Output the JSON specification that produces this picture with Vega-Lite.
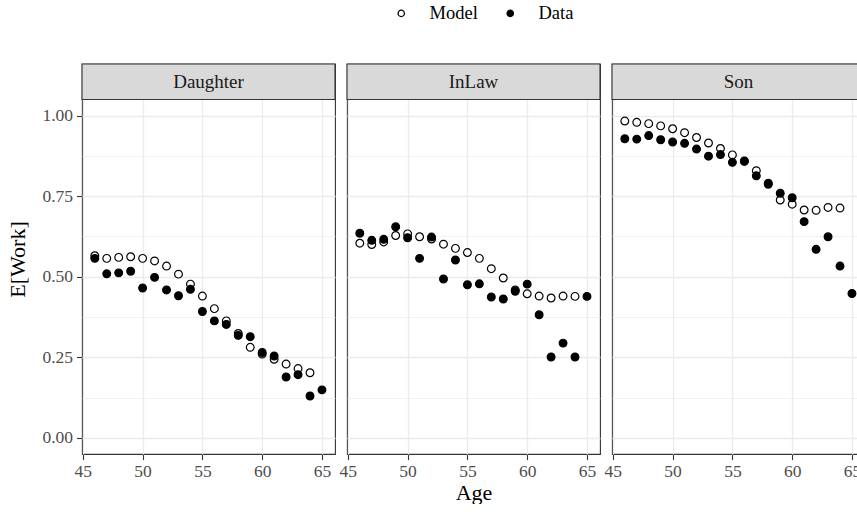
{
  "$schema": "https://vega.github.io/schema/vega-lite/v6.json",
  "padding": {"left": 6, "top": 4, "right": 0, "bottom": 0},
  "background": "white",
  "bounds": "flush",
  "data": {"values": [
    {"panel": "Daughter", "age": 46, "type": "Model", "value": 0.565},
    {"panel": "Daughter", "age": 47, "type": "Model", "value": 0.557},
    {"panel": "Daughter", "age": 48, "type": "Model", "value": 0.560},
    {"panel": "Daughter", "age": 49, "type": "Model", "value": 0.562},
    {"panel": "Daughter", "age": 50, "type": "Model", "value": 0.557},
    {"panel": "Daughter", "age": 51, "type": "Model", "value": 0.549},
    {"panel": "Daughter", "age": 52, "type": "Model", "value": 0.533},
    {"panel": "Daughter", "age": 53, "type": "Model", "value": 0.508},
    {"panel": "Daughter", "age": 54, "type": "Model", "value": 0.477},
    {"panel": "Daughter", "age": 55, "type": "Model", "value": 0.440},
    {"panel": "Daughter", "age": 56, "type": "Model", "value": 0.401},
    {"panel": "Daughter", "age": 57, "type": "Model", "value": 0.363},
    {"panel": "Daughter", "age": 58, "type": "Model", "value": 0.324},
    {"panel": "Daughter", "age": 59, "type": "Model", "value": 0.281},
    {"panel": "Daughter", "age": 60, "type": "Model", "value": 0.260},
    {"panel": "Daughter", "age": 61, "type": "Model", "value": 0.244},
    {"panel": "Daughter", "age": 62, "type": "Model", "value": 0.229},
    {"panel": "Daughter", "age": 63, "type": "Model", "value": 0.215},
    {"panel": "Daughter", "age": 64, "type": "Model", "value": 0.202},
    {"panel": "InLaw", "age": 46, "type": "Model", "value": 0.604},
    {"panel": "InLaw", "age": 47, "type": "Model", "value": 0.600},
    {"panel": "InLaw", "age": 48, "type": "Model", "value": 0.608},
    {"panel": "InLaw", "age": 49, "type": "Model", "value": 0.628},
    {"panel": "InLaw", "age": 50, "type": "Model", "value": 0.633},
    {"panel": "InLaw", "age": 51, "type": "Model", "value": 0.624},
    {"panel": "InLaw", "age": 52, "type": "Model", "value": 0.617},
    {"panel": "InLaw", "age": 53, "type": "Model", "value": 0.601},
    {"panel": "InLaw", "age": 54, "type": "Model", "value": 0.588},
    {"panel": "InLaw", "age": 55, "type": "Model", "value": 0.575},
    {"panel": "InLaw", "age": 56, "type": "Model", "value": 0.557},
    {"panel": "InLaw", "age": 57, "type": "Model", "value": 0.525},
    {"panel": "InLaw", "age": 58, "type": "Model", "value": 0.496},
    {"panel": "InLaw", "age": 59, "type": "Model", "value": 0.459},
    {"panel": "InLaw", "age": 60, "type": "Model", "value": 0.447},
    {"panel": "InLaw", "age": 61, "type": "Model", "value": 0.440},
    {"panel": "InLaw", "age": 62, "type": "Model", "value": 0.434},
    {"panel": "InLaw", "age": 63, "type": "Model", "value": 0.440},
    {"panel": "InLaw", "age": 64, "type": "Model", "value": 0.439},
    {"panel": "Son", "age": 46, "type": "Model", "value": 0.983},
    {"panel": "Son", "age": 47, "type": "Model", "value": 0.979},
    {"panel": "Son", "age": 48, "type": "Model", "value": 0.975},
    {"panel": "Son", "age": 49, "type": "Model", "value": 0.968},
    {"panel": "Son", "age": 50, "type": "Model", "value": 0.959},
    {"panel": "Son", "age": 51, "type": "Model", "value": 0.947},
    {"panel": "Son", "age": 52, "type": "Model", "value": 0.932},
    {"panel": "Son", "age": 53, "type": "Model", "value": 0.915},
    {"panel": "Son", "age": 54, "type": "Model", "value": 0.898},
    {"panel": "Son", "age": 55, "type": "Model", "value": 0.878},
    {"panel": "Son", "age": 56, "type": "Model", "value": 0.858},
    {"panel": "Son", "age": 57, "type": "Model", "value": 0.829},
    {"panel": "Son", "age": 58, "type": "Model", "value": 0.790},
    {"panel": "Son", "age": 59, "type": "Model", "value": 0.738},
    {"panel": "Son", "age": 60, "type": "Model", "value": 0.725},
    {"panel": "Son", "age": 61, "type": "Model", "value": 0.707},
    {"panel": "Son", "age": 62, "type": "Model", "value": 0.706},
    {"panel": "Son", "age": 63, "type": "Model", "value": 0.715},
    {"panel": "Son", "age": 64, "type": "Model", "value": 0.713},
    {"panel": "Daughter", "age": 46, "type": "Data", "value": 0.557},
    {"panel": "Daughter", "age": 47, "type": "Data", "value": 0.509},
    {"panel": "Daughter", "age": 48, "type": "Data", "value": 0.512},
    {"panel": "Daughter", "age": 49, "type": "Data", "value": 0.517},
    {"panel": "Daughter", "age": 50, "type": "Data", "value": 0.465},
    {"panel": "Daughter", "age": 51, "type": "Data", "value": 0.498},
    {"panel": "Daughter", "age": 52, "type": "Data", "value": 0.459},
    {"panel": "Daughter", "age": 53, "type": "Data", "value": 0.441},
    {"panel": "Daughter", "age": 54, "type": "Data", "value": 0.461},
    {"panel": "Daughter", "age": 55, "type": "Data", "value": 0.392},
    {"panel": "Daughter", "age": 56, "type": "Data", "value": 0.363},
    {"panel": "Daughter", "age": 57, "type": "Data", "value": 0.352},
    {"panel": "Daughter", "age": 58, "type": "Data", "value": 0.318},
    {"panel": "Daughter", "age": 59, "type": "Data", "value": 0.314},
    {"panel": "Daughter", "age": 60, "type": "Data", "value": 0.265},
    {"panel": "Daughter", "age": 61, "type": "Data", "value": 0.254},
    {"panel": "Daughter", "age": 62, "type": "Data", "value": 0.189},
    {"panel": "Daughter", "age": 63, "type": "Data", "value": 0.196},
    {"panel": "Daughter", "age": 64, "type": "Data", "value": 0.130},
    {"panel": "Daughter", "age": 65, "type": "Data", "value": 0.149},
    {"panel": "InLaw", "age": 46, "type": "Data", "value": 0.635},
    {"panel": "InLaw", "age": 47, "type": "Data", "value": 0.613},
    {"panel": "InLaw", "age": 48, "type": "Data", "value": 0.616},
    {"panel": "InLaw", "age": 49, "type": "Data", "value": 0.655},
    {"panel": "InLaw", "age": 50, "type": "Data", "value": 0.621},
    {"panel": "InLaw", "age": 51, "type": "Data", "value": 0.557},
    {"panel": "InLaw", "age": 52, "type": "Data", "value": 0.623},
    {"panel": "InLaw", "age": 53, "type": "Data", "value": 0.493},
    {"panel": "InLaw", "age": 54, "type": "Data", "value": 0.552},
    {"panel": "InLaw", "age": 55, "type": "Data", "value": 0.475},
    {"panel": "InLaw", "age": 56, "type": "Data", "value": 0.478},
    {"panel": "InLaw", "age": 57, "type": "Data", "value": 0.437},
    {"panel": "InLaw", "age": 58, "type": "Data", "value": 0.431},
    {"panel": "InLaw", "age": 59, "type": "Data", "value": 0.455},
    {"panel": "InLaw", "age": 60, "type": "Data", "value": 0.477},
    {"panel": "InLaw", "age": 61, "type": "Data", "value": 0.382},
    {"panel": "InLaw", "age": 62, "type": "Data", "value": 0.251},
    {"panel": "InLaw", "age": 63, "type": "Data", "value": 0.294},
    {"panel": "InLaw", "age": 64, "type": "Data", "value": 0.251},
    {"panel": "InLaw", "age": 65, "type": "Data", "value": 0.439},
    {"panel": "Son", "age": 46, "type": "Data", "value": 0.928},
    {"panel": "Son", "age": 47, "type": "Data", "value": 0.927},
    {"panel": "Son", "age": 48, "type": "Data", "value": 0.938},
    {"panel": "Son", "age": 49, "type": "Data", "value": 0.925},
    {"panel": "Son", "age": 50, "type": "Data", "value": 0.918},
    {"panel": "Son", "age": 51, "type": "Data", "value": 0.914},
    {"panel": "Son", "age": 52, "type": "Data", "value": 0.896},
    {"panel": "Son", "age": 53, "type": "Data", "value": 0.874},
    {"panel": "Son", "age": 54, "type": "Data", "value": 0.879},
    {"panel": "Son", "age": 55, "type": "Data", "value": 0.855},
    {"panel": "Son", "age": 56, "type": "Data", "value": 0.859},
    {"panel": "Son", "age": 57, "type": "Data", "value": 0.813},
    {"panel": "Son", "age": 58, "type": "Data", "value": 0.787},
    {"panel": "Son", "age": 59, "type": "Data", "value": 0.759},
    {"panel": "Son", "age": 60, "type": "Data", "value": 0.745},
    {"panel": "Son", "age": 61, "type": "Data", "value": 0.671},
    {"panel": "Son", "age": 62, "type": "Data", "value": 0.585},
    {"panel": "Son", "age": 63, "type": "Data", "value": 0.624},
    {"panel": "Son", "age": 64, "type": "Data", "value": 0.533},
    {"panel": "Son", "age": 65, "type": "Data", "value": 0.448}
  ]},
  "facet": {"column": {
    "field": "panel", "type": "nominal", "sort": ["Daughter", "InLaw", "Son"],
    "title": "Age",
    "header": {
      "labels": false,
      "titleOrient": "bottom",
      "titleFont": "Liberation Serif",
      "titleFontSize": 22,
      "titleFontWeight": "normal",
      "titleColor": "black",
      "titlePadding": -7
    }
  }},
  "spacing": 12,
  "spec": {
    "width": 253,
    "height": 390,
    "layer": [
      {
        "mark": {"type": "point", "shape": "circle", "filled": true, "stroke": "black", "strokeWidth": 1.2, "size": 60, "opacity": 1},
        "encoding": {
          "x": {
            "field": "age", "type": "quantitative", "title": null,
            "scale": {"domain": [44.93, 66.09], "nice": false, "zero": false},
            "axis": {
              "values": [45, 47.5, 50, 52.5, 55, 57.5, 60, 62.5, 65],
              "format": "d",
              "labelExpr": "datum.value % 5 === 0 ? datum.label : ''",
              "tickOpacity": {"condition": {"test": "datum.value % 5 === 0", "value": 1}, "value": 0},
              "gridWidth": {"condition": {"test": "datum.value % 5 === 0", "value": 1.3}, "value": 0.7},
              "labelFlush": false,
              "labelOverlap": false,
              "labelPadding": 3
            }
          },
          "y": {
            "field": "value", "type": "quantitative", "title": "E[Work]",
            "scale": {"domain": [-0.05, 1.16], "nice": false, "zero": false},
            "axis": {
              "values": [0, 0.125, 0.25, 0.375, 0.5, 0.625, 0.75, 0.875, 1],
              "format": ".2f",
              "labelExpr": "datum.value % 0.25 === 0 ? datum.label : ''",
              "tickOpacity": {"condition": {"test": "datum.value % 0.25 === 0", "value": 1}, "value": 0},
              "gridWidth": {"condition": {"test": "datum.value % 0.25 === 0", "value": 1.3}, "value": 0.7},
              "labelOverlap": false,
              "labelPadding": 4,
              "titlePadding": 12
            }
          },
          "fill": {
            "field": "type", "type": "nominal",
            "scale": {"domain": ["Model", "Data"], "range": ["white", "black"]},
            "legend": {
              "orient": "none", "legendX": 310, "legendY": -60,
              "direction": "horizontal", "title": null,
              "symbolType": "circle", "symbolSize": 40,
              "symbolStrokeColor": "black", "symbolStrokeWidth": 1.3,
              "labelFont": "Liberation Serif", "labelFontSize": 18.5, "labelColor": "black",
              "labelOffset": 19, "columnPadding": 23,
              "encode": {"symbols": {"update": {"stroke": {"value": "black"}, "strokeWidth": {"value": 1.3}}}}
            }
          }
        }
      },
      {
        "transform": [{"aggregate": [{"op": "count", "as": "n"}], "groupby": ["panel"]}],
        "mark": {"type": "rect", "fill": "#d9d9d9", "stroke": "#333333", "strokeWidth": 1.1},
        "encoding": {
          "x": {"value": 0},
          "x2": {"value": "width"},
          "y": {"datum": 1.16},
          "y2": {"datum": 1.05}
        }
      },
      {
        "transform": [{"aggregate": [{"op": "count", "as": "n"}], "groupby": ["panel"]}],
        "mark": {"type": "text", "font": "Liberation Serif", "fontSize": 19, "color": "#1a1a1a", "baseline": "middle", "align": "center"},
        "encoding": {
          "x": {"datum": 55.51},
          "y": {"datum": 1.105},
          "text": {"field": "panel", "type": "nominal"}
        }
      }
    ]
  },
  "config": {
    "view": {"stroke": "#333333", "strokeWidth": 1.1},
    "font": "Liberation Serif",
    "axis": {
      "domain": false,
      "gridColor": "#ebebeb",
      "tickColor": "#333333",
      "tickSize": 5.5,
      "tickWidth": 1.1,
      "labelColor": "#4d4d4d",
      "labelFont": "Liberation Serif",
      "labelFontSize": 17.5,
      "titleFont": "Liberation Serif",
      "titleFontSize": 22,
      "titleFontWeight": "normal",
      "titleColor": "black"
    }
  }
}
